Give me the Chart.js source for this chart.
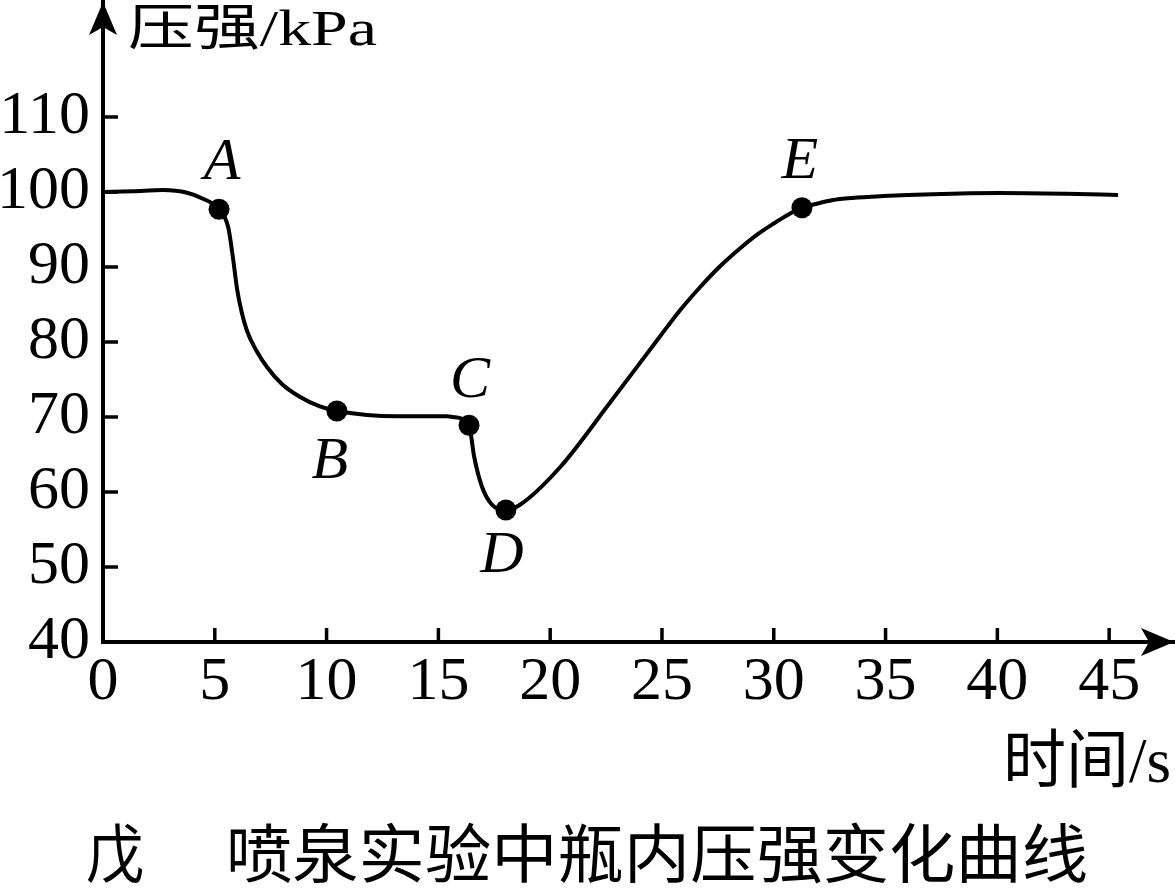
<!DOCTYPE html>
<html>
<head>
<meta charset="utf-8">
<title>喷泉实验中瓶内压强变化曲线</title>
<script src="https://cdn.jsdelivr.net/npm/chart.js@4.4.1/dist/chart.umd.min.js"></script>
<style>
  html, body { margin: 0; padding: 0; background: #fff; overflow: hidden; }
  #wrap { position: relative; width: 1175px; height: 888px; }
  #wrap canvas { display: block; }
</style>
</head>
<body>
<div id="wrap"><canvas id="chart"></canvas></div>
<script>
(function () {
  "use strict";

  // curve (time in s, pressure in kPa)
  const curveX = [0, 1.34, 2.68, 3.76, 4.47, 5.19, 5.6, 5.8, 6.0, 6.2, 6.45, 6.85, 7.35, 8.0, 8.8, 9.7, 10.46,
    13.15, 15.4, 15.65, 16.37, 16.6, 16.95, 17.4, 18.02, 18.65, 20.44, 22.67, 24.9, 25.8, 26.7,
    27.6, 28.5, 29.3, 30.0, 30.6, 31.26, 32.0, 32.6, 33.5, 34.9, 37.1, 40.1, 43.1, 45.4];
  const curveY = [100, 100.1, 100.25, 99.9, 99.1, 97.7, 95.3, 91.5, 87.0, 84.0, 81.4, 78.9, 76.6, 74.4, 72.7, 71.4, 70.8,
    70.1, 70.1, 70.0, 68.9, 64.7, 60.7, 58.3, 57.6, 58.3, 63.3, 71.9, 80.7, 84.2, 87.3,
    90.1, 92.5, 94.4, 95.8, 96.9, 97.9, 98.5, 98.9, 99.2, 99.45, 99.7, 99.85, 99.75, 99.6];

  // marked points
  const markNames = ["A", "B", "C", "D", "E"];
  const markX = [5.19, 10.46, 16.37, 18.02, 31.26];
  const markY = [97.7, 70.8, 68.9, 57.6, 97.9];

  // axis ticks
  const xTicks = [0, 5, 10, 15, 20, 25, 30, 35, 40, 45];
  const yTicks = [40, 50, 60, 70, 80, 90, 100, 110];

  const yTitle = "压强/kPa";
  const xTitle = "时间/s";
  const captionTag = "戊";
  const caption = "喷泉实验中瓶内压强变化曲线";

  const SERIF = "'Liberation Serif', 'Times New Roman', Times, serif";
  const CJK = "'Liberation Serif', 'Noto Sans CJK SC', sans-serif";
  const labelOffsets = [[3, -46], [-7, 51], [1, -44], [-4, 46], [-2, -45]];

  function get(id) {
    return document.getElementById(id);
  }

  function arrowHead(ctx, tipX, tipY, dir) {
    // dir: "up" or "right"
    const len = 33, half = 14, notch = 8;
    ctx.beginPath();
    if (dir === "up") {
      ctx.moveTo(tipX, tipY);
      ctx.lineTo(tipX + half, tipY + len);
      ctx.lineTo(tipX, tipY + len - notch);
      ctx.lineTo(tipX - half, tipY + len);
    } else {
      ctx.moveTo(tipX, tipY);
      ctx.lineTo(tipX - len, tipY - half);
      ctx.lineTo(tipX - len + notch, tipY);
      ctx.lineTo(tipX - len, tipY + half);
    }
    ctx.closePath();
    ctx.fill();
  }

  function fitText(ctx, text, x, y, width) {
    const w = ctx.measureText(text).width;
    ctx.save();
    ctx.translate(x, y);
    ctx.scale(width / w, 1);
    ctx.textAlign = "left";
    ctx.fillText(text, 0, 0);
    ctx.restore();
  }

  const decorPlugin = {
    id: "decor",
    afterDraw(chart) {
      const ctx = chart.ctx;
      const area = chart.chartArea;
      const xs = chart.scales.x;
      const ys = chart.scales.y;
      ctx.save();
      ctx.fillStyle = "#000";
      ctx.strokeStyle = "#000";
      ctx.lineWidth = 3.5;

      // inner tick marks
      xTicks.slice(1).forEach((v) => {
        const px = xs.getPixelForValue(v);
        ctx.beginPath();
        ctx.moveTo(px, area.bottom);
        ctx.lineTo(px, area.bottom - 14);
        ctx.stroke();
      });
      yTicks.slice(1).forEach((v) => {
        const py = ys.getPixelForValue(v);
        ctx.beginPath();
        ctx.moveTo(area.left, py);
        ctx.lineTo(area.left + 15, py);
        ctx.stroke();
      });

      arrowHead(ctx, area.left, area.top, "up");
      arrowHead(ctx, area.right, area.bottom, "right");

      // point letters
      const meta = chart.getDatasetMeta(1);
      ctx.font = "italic 60px " + SERIF;
      ctx.textAlign = "center";
      ctx.textBaseline = "middle";
      meta.data.forEach((pt, i) => {
        const off = labelOffsets[i];
        ctx.fillText(markNames[i], pt.x + off[0], pt.y + off[1]);
      });

      // axis titles and caption
      ctx.textBaseline = "middle";
      ctx.font = "50px " + CJK;
      fitText(ctx, yTitle, 128, 32, 249);
      ctx.font = "64px " + CJK;
      fitText(ctx, xTitle, 1003, 765, 168);
      ctx.font = "64px 'Noto Sans CJK SC', sans-serif";
      fitText(ctx, captionTag, 86, 853, 58);
      fitText(ctx, caption, 226, 853, 862);
      ctx.restore();
    },
  };

  function init() {
    const curve = curveX.map((x, i) => ({ x: x, y: curveY[i] }));
    const marks = markX.map((x, i) => ({ x: x, y: markY[i] }));
    const tickFont = { family: SERIF, size: 62 };

    new Chart(get("chart").getContext("2d"), {
      type: "scatter",
      data: {
        datasets: [
          {
            data: curve,
            showLine: true,
            borderColor: "#000",
            borderWidth: 4,
            pointRadius: 0,
            cubicInterpolationMode: "monotone",
            fill: false,
          },
          {
            data: marks,
            showLine: false,
            pointRadius: 10.5,
            pointBackgroundColor: "#000",
            pointBorderWidth: 0,
          },
        ],
      },
      options: {
        responsive: true,
        maintainAspectRatio: false,
        animation: false,
        events: [],
        layout: { autoPadding: false, padding: { left: 0, top: 2, right: 1, bottom: 0 } },
        plugins: { legend: { display: false }, tooltip: { enabled: false } },
        scales: {
          x: {
            type: "linear",
            min: 0,
            max: 47.9,
            afterBuildTicks: (s) => { s.ticks = xTicks.map((v) => ({ value: v })); },
            afterFit: (s) => { s.height = 246; s.paddingLeft = 0; s.paddingRight = 0; },
            ticks: { color: "#000", font: tickFont, padding: 4, autoSkip: false, maxRotation: 0 },
            grid: { display: true, drawOnChartArea: false, drawTicks: false },
            border: { color: "#000", width: 4 },
          },
          y: {
            type: "linear",
            min: 40,
            max: 125.33,
            afterBuildTicks: (s) => { s.ticks = yTicks.map((v) => ({ value: v })); },
            afterFit: (s) => { s.width = 103; s.paddingTop = 0; s.paddingBottom = 0; },
            ticks: { color: "#000", font: tickFont, padding: 13, autoSkip: false },
            grid: { display: true, drawOnChartArea: false, drawTicks: false },
            border: { color: "#000", width: 4 },
          },
        },
      },
      plugins: [decorPlugin],
    });
  }

  const fontLoads = [
    "62px 'Liberation Serif'",
    "italic 60px 'Liberation Serif'",
    "64px 'Noto Sans CJK SC'",
  ].map((f) => document.fonts.load(f, "0A压"));
  Promise.all(fontLoads).then(init, init);
})();
</script>
</body>
</html>
